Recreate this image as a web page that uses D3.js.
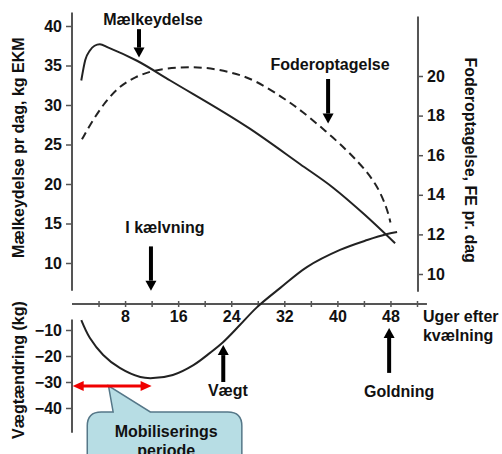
<!DOCTYPE html>
<html>
<head>
<meta charset="utf-8">
<script src="https://cdn.jsdelivr.net/npm/d3@7"></script>
<style>
  body { margin: 0; background: #fff; }
  svg text { font-family: "Liberation Sans", Arial, sans-serif; font-weight: bold; fill: #111; }
</style>
</head>
<body>
<div id="chart"></div>
<script>
// uger efter kælvning
var milkWeeks = [1.4, 2, 2.7, 3.4, 4.2, 5.4, 9.8, 14.8, 26.8, 34.4, 39.4, 44, 48.7];
var milkValues = [33.1, 35.7, 36.9, 37.5, 37.7, 37.3, 35.6, 33.1, 27.0, 22.5, 19.5, 16.2, 12.5];

var feedWeeks = [1.5, 3, 5, 7.2, 9.5, 12.2, 16.3, 20, 24, 27.6, 31.8, 34.4, 39.4, 43.4, 46, 47.5, 48];
var feedValues = [16.8, 17.7, 18.7, 19.5, 19.95, 20.3, 20.45, 20.45, 20.2, 19.8, 18.9, 18.3, 16.9, 15.6, 14.5, 13.3, 12.6];

var weightWeeks = [1.4, 2.7, 4.7, 7.2, 10.3, 12.2, 15.2, 18.3, 20.8, 22.8, 25.3, 27.9, 31.4, 35.4, 40.4, 44.5, 47.5, 49];
var weightValues = [-6.2, -13.1, -19.6, -24.6, -28.1, -28.5, -27.3, -23.5, -18.8, -14.6, -8.1, -1.2, 6.2, 14.2, 20.8, 24.6, 26.9, 27.7];

var milkTicks = [10, 15, 20, 25, 30, 35, 40];
var feedTicks = [10, 12, 14, 16, 18, 20];
var weightTicks = [-10, -20, -30, -40];
var weekTicks = [4, 8, 12, 16, 20, 24, 28, 32, 36, 40, 44, 48, 52];
var weekLabels = [8, 16, 24, 32, 40, 48];

var W = 502, H = 454;

var x = d3.scaleLinear().domain([0, 52]).range([72, 417]);
var yMilk = d3.scaleLinear().domain([10, 40]).range([263, 26]);
var yFeed = d3.scaleLinear().domain([10, 20]).range([274, 76]);
var yWeight = d3.scaleLinear().domain([-40, 0]).range([408, 304]);

var svg = d3.select("#chart").append("svg")
  .attr("width", W)
  .attr("height", H);

// akser
var gMilk = svg.append("g")
  .attr("transform", `translate(${x(0)},0)`)
  .call(d3.axisLeft(yMilk).tickValues(milkTicks).tickSize(6).tickPadding(4));
gMilk.select(".domain").attr("d", `M0,${yMilk(41.7)}V${yMilk(6.5)}`);

var gFeed = svg.append("g")
  .attr("transform", `translate(${x(52.15)},0)`)
  .call(d3.axisRight(yFeed).tickValues(feedTicks).tickSize(5).tickPadding(4));
gFeed.select(".domain").attr("d", `M0,${yFeed(23)}V${yFeed(9.1)}`);

var gWeight = svg.append("g")
  .attr("transform", `translate(${x(0)},0)`)
  .call(d3.axisLeft(yWeight).tickValues(weightTicks).tickSize(6).tickPadding(4));
gWeight.select(".domain").attr("d", `M0,${yWeight(-6)}V${yWeight(-49.5)}`);

var gWeek = svg.append("g")
  .attr("transform", `translate(0,${yWeight(0)})`)
  .call(d3.axisBottom(x).tickValues(weekTicks).tickSize(3).tickPadding(4)
    .tickFormat(d => weekLabels.indexOf(d) >= 0 ? d : ""));
gWeek.select(".domain").attr("d", `M${x(0)},0H${x(53.5)}`);
gWeek.selectAll(".tick line").attr("y1", -3);

svg.selectAll(".domain").attr("stroke", "#555").attr("stroke-width", 2);
svg.selectAll(".tick line").attr("stroke", "#555").attr("stroke-width", 1.5);
svg.selectAll(".tick text").attr("font-size", 16).attr("fill", "#111");

// kurver
var milkLine = d3.line().x((d, i) => x(milkWeeks[i])).y(d => yMilk(d)).curve(d3.curveMonotoneX);
var feedLine = d3.line().x((d, i) => x(feedWeeks[i])).y(d => yFeed(d)).curve(d3.curveBasis);
var weightLine = d3.line().x((d, i) => x(weightWeeks[i])).y(d => yWeight(d)).curve(d3.curveCatmullRom);

svg.append("path").attr("d", feedLine(feedValues))
  .attr("fill", "none").attr("stroke", "#222").attr("stroke-width", 2)
  .attr("stroke-dasharray", "8,5");
svg.append("path").attr("d", milkLine(milkValues))
  .attr("fill", "none").attr("stroke", "#222").attr("stroke-width", 2);
svg.append("path").attr("d", weightLine(weightValues))
  .attr("fill", "none").attr("stroke", "#222").attr("stroke-width", 2);

// aksetitler
svg.append("text")
  .attr("transform", `translate(18,${yMilk(24.6)}) rotate(-90)`)
  .attr("text-anchor", "middle").attr("dy", "0.35em").attr("font-size", 16)
  .text("Mælkeydelse pr dag, kg EKM");
svg.append("text")
  .attr("transform", `translate(471,${yFeed(15.75)}) rotate(90)`)
  .attr("text-anchor", "middle").attr("dy", "0.35em").attr("font-size", 16)
  .text("Foderoptagelse, FE pr. dag");
svg.append("text")
  .attr("transform", `translate(18,${yWeight(-25.4)}) rotate(-90)`)
  .attr("text-anchor", "middle").attr("dy", "0.35em").attr("font-size", 16)
  .text("Vægtændring (kg)");

svg.append("text").attr("x", x(52.9)).attr("y", yWeight(-6.9)).attr("font-size", 16).text("Uger efter");
svg.append("text").attr("x", x(52.9)).attr("y", yWeight(-14.2)).attr("font-size", 16).text("kvælning");

// pile
function arrow(px, y0, y1) {
  var dir = y1 > y0 ? 1 : -1;
  var head = 10;
  svg.append("line")
    .attr("x1", px).attr("x2", px)
    .attr("y1", y0).attr("y2", y1 - dir * head)
    .attr("stroke", "#000").attr("stroke-width", 4);
  svg.append("path")
    .attr("d", `M${px - 5.5},${y1 - dir * head}L${px + 5.5},${y1 - dir * head}L${px},${y1}Z`)
    .attr("fill", "#000");
}

function label(txt, px, py) {
  svg.append("text").attr("x", px).attr("y", py)
    .attr("text-anchor", "middle").attr("font-size", 16).text(txt);
}

label("Mælkeydelse", x(12.2), yMilk(40.1));
arrow(x(10.1), yMilk(39.6), yMilk(36.0));

label("Foderoptagelse", x(38.9), yFeed(20.3));
arrow(x(38.6), yFeed(19.85), yFeed(17.6));

label("I kælvning", x(14), yMilk(13.75));
arrow(x(11.9), yMilk(12.1), yMilk(6.5));

label("Vægt", x(23.5), yWeight(-35.4));
arrow(x(22.8), yWeight(-30), yWeight(-15.8));

label("Goldning", x(49.3), yWeight(-35.8));
arrow(x(47.8), yWeight(-26.5), yWeight(-9.2));

// mobiliseringsperiode
var bx0 = x(2.3), bx1 = x(25.6), by0 = yWeight(-41.5), by1 = H + 20, r = 14;
svg.append("path")
  .attr("d", `M${bx0 + r},${by0}L${x(6.2)},${by0}L${x(5.5)},${yWeight(-31.5)}L${x(11.8)},${by0}` +
    `L${bx1 - r},${by0}Q${bx1},${by0} ${bx1},${by0 + r}L${bx1},${by1}L${bx0},${by1}` +
    `L${bx0},${by0 + r}Q${bx0},${by0} ${bx0 + r},${by0}Z`)
  .attr("fill", "#b7dde4").attr("stroke", "#557788").attr("stroke-width", 1.5);
label("Mobiliserings", x(14.2), yWeight(-51));
label("periode", x(14.2), yWeight(-58.5));

var ry = yWeight(-31.5), rx0 = x(0.1), rx1 = x(12);
svg.append("line").attr("x1", rx0 + 8).attr("x2", rx1 - 8).attr("y1", ry).attr("y2", ry)
  .attr("stroke", "#f00000").attr("stroke-width", 3);
svg.append("path").attr("d", `M${rx0},${ry}L${rx0 + 11},${ry - 5}L${rx0 + 11},${ry + 5}Z`).attr("fill", "#f00000");
svg.append("path").attr("d", `M${rx1},${ry}L${rx1 - 11},${ry - 5}L${rx1 - 11},${ry + 5}Z`).attr("fill", "#f00000");
</script>
</body>
</html>
